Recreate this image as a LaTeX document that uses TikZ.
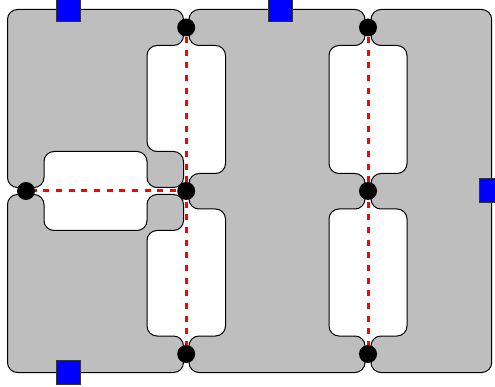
\documentclass[tikz,border=0pt]{standalone}
\usetikzlibrary{backgrounds}
\definecolor{regiongray}{HTML}{BEBEBE}
\tikzset{
  region/.style={fill=regiongray,draw=black,line width=1pt,rounded corners=10pt},
  junction/.style={circle,fill=black,inner sep=0pt,minimum size=18pt},
  port/.style={fill=blue,draw=black!80,line width=1pt,inner sep=0pt,minimum width=24pt,minimum height=24pt},
  seam/.style={red,line width=3pt,dash pattern=on 6pt off 6.67pt}
}
\begin{document}
\begin{tikzpicture}[x=1pt,y=-1pt]
\useasboundingbox (0,0) rectangle (495,387);
\begin{scope}[on background layer]
\path[region] (7.5,9.5)--(183.5,9.5)--(183.5,45.5)--(147,45.5)--(147,151.5)--(183.5,151.5)--(183.5,187.5)--(147,187.5)--(147,151.5)--(44,151.5)--(44,187.5)--(7.5,187.5)--cycle;
\path[region] (7.5,194.5)--(44,194.5)--(44,230.5)--(147,230.5)--(147,194.5)--(183.5,194.5)--(183.5,230.5)--(147,230.5)--(147,336)--(183.5,336)--(183.5,372.5)--(7.5,372.5)--cycle;
\path[region] (189,9.5)--(365,9.5)--(365,45.5)--(329,45.5)--(329,173.5)--(365,173.5)--(365,209)--(329,209)--(329,336)--(365,336)--(365,372.5)--(189,372.5)--(189,336)--(225.5,336)--(225.5,209)--(189,209)--(189,173.5)--(225.5,173.5)--(225.5,45.5)--(189,45.5)--cycle;
\path[region] (371,9.5)--(491.7,9.5)--(491.7,372.5)--(371,372.5)--(371,336)--(407,336)--(407,209)--(371,209)--(371,173.5)--(407,173.5)--(407,45.5)--(371,45.5)--cycle;
\end{scope}
\node[junction] (jl) at (26,191) {};
\node[junction] (jc) at (186.2,191) {};
\node[junction] (jr) at (368,191) {};
\node[junction] (jct) at (186.2,27.5) {};
\node[junction] (jcb) at (186.2,354) {};
\node[junction] (jrt) at (368,27.5) {};
\node[junction] (jrb) at (368,354) {};
\begin{scope}[on background layer]
\draw[seam,dash phase=8pt] (jl.center)--(jc.center);
\draw[seam,dash phase=3.2pt] (jct.center)--(jcb.center);
\draw[seam,dash phase=3.2pt] (jrt.center)--(jrb.center);
\end{scope}
\node[port] (p1) at (68.2,9.7) {};
\node[port] (p2) at (280,9.5) {};
\node[port] (p3) at (491.8,190.5) {};
\node[port] (p4) at (68.2,372.3) {};
\end{tikzpicture}
\end{document}
